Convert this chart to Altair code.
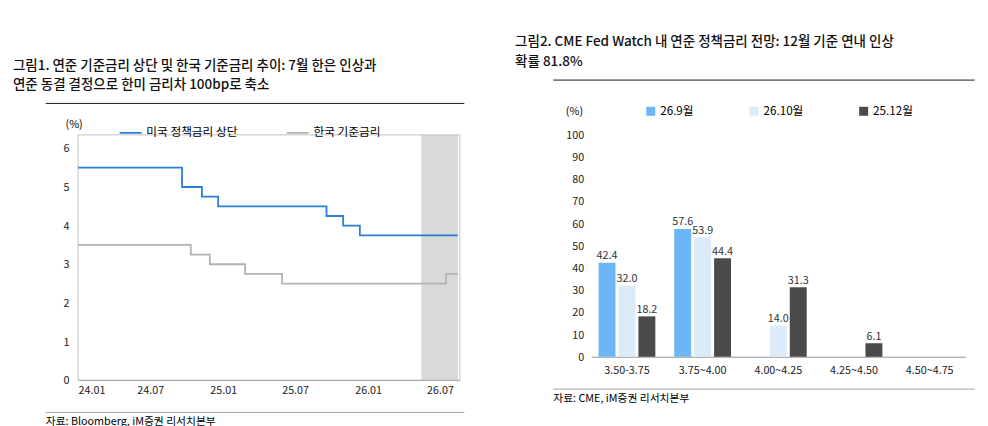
import altair as alt
import pandas as pd

FONT = "Noto Sans CJK KR"

us_dates = ["2024-01-01","2024-09-19","2024-11-08","2024-12-19","2025-09-18","2025-10-30","2025-12-11","2026-08-15"]
us_vals = [5.5,5.0,4.75,4.5,4.25,4.0,3.75,3.75]
kr_dates = ["2024-01-01","2024-10-11","2024-11-28","2025-02-25","2025-05-29","2026-07-16","2026-08-15"]
kr_vals = [3.5,3.25,3.0,2.75,2.5,2.75,2.75]
shade = [("2026-05-15","2026-08-15")]

buckets = ["3.50-3.75","3.75~4.00","4.00~4.25","4.25~4.50","4.50~4.75"]
series = ["26.9월","26.10월","25.12월"]
probs = {"26.9월":[42.4,57.6,0,0,0],"26.10월":[32.0,53.9,14.0,0,0],"25.12월":[18.2,44.4,31.3,6.1,0]}

lines = pd.concat([
    pd.DataFrame({"date":pd.to_datetime(us_dates),"v":us_vals,"s":"미국 정책금리 상단"}),
    pd.DataFrame({"date":pd.to_datetime(kr_dates),"v":kr_vals,"s":"한국 기준금리"}),
])
sh = pd.DataFrame({"a":pd.to_datetime([s[0] for s in shade]),"b":pd.to_datetime([s[1] for s in shade])})
one = pd.DataFrame({"t":[""]})

W1, H1 = 425, 273
xs = alt.Scale(domain=[pd.Timestamp("2024-01-01"), pd.Timestamp("2026-08-20")])
ticks = [pd.Timestamp(d) for d in ["2024-01-01","2024-07-01","2025-01-01","2025-07-01","2026-01-01","2026-07-01"]]
rect = alt.Chart(sh).mark_rect(color="#d9d9d9").encode(
    x=alt.X("a:T", scale=xs), x2="b:T", y=alt.value(0), y2=alt.value(H1))
frame = alt.Chart(one).mark_rect(fill=None, stroke="#bbbbbb").encode(
    x=alt.value(0), x2=alt.value(W1), y=alt.value(0), y2=alt.value(H1))
ln = alt.Chart(lines).mark_line(interpolate="step-after", strokeWidth=2).encode(
    x=alt.X("date:T", scale=xs, title=None,
            axis=alt.Axis(values=ticks, format="%y.%m", grid=False, labelPadding=6, tickSize=0)),
    y=alt.Y("v:Q", scale=alt.Scale(domain=[0,6.35], nice=False), title=None,
            axis=alt.Axis(values=[0,1,2,3,4,5,6], grid=False, tickSize=0, labelPadding=10, domain=False)),
    color=alt.Color("s:N", scale=alt.Scale(domain=["미국 정책금리 상단","한국 기준금리"], range=["#2a7fd4","#b3b3b3"]),
                    legend=alt.Legend(orient="none", legendX=45, legendY=-16, direction="horizontal", title=None,
                                      symbolType="stroke", symbolStrokeWidth=2, symbolSize=600, labelFontSize=13, columnPadding=50)))
unit1 = alt.Chart(pd.DataFrame({"t":["(%)"]})).mark_text(align="left", fontSize=12).encode(
    text="t:N", x=alt.value(-14), y=alt.value(-12))
src1 = alt.Chart(pd.DataFrame({"t":["자료: Bloomberg, iM증권 리서치본부"]})).mark_text(align="left", fontSize=12).encode(
    text="t:N", x=alt.value(-36), y=alt.value(H1+46))
top1 = alt.Chart(one).mark_rule(color="black").encode(x=alt.value(-36), x2=alt.value(W1+5), y=alt.value(-35))
bot1 = alt.Chart(one).mark_rule(color="#999").encode(x=alt.value(-36), x2=alt.value(W1+5), y=alt.value(H1+36))
left = alt.layer(rect, frame, ln, unit1, src1, top1, bot1).properties(
    width=W1, height=H1,
    title=alt.TitleParams(["그림1.  연준 기준금리 상단 및 한국 기준금리 추이: 7월 한은 인상과",
                           "           연준 동결 결정으로 한미 금리차 100bp로 축소"],
                          anchor="start", fontSize=15, fontWeight=500, lineHeight=22, offset=12, dx=-36, color="#111"))

rows = []
for s in series:
    for b, v in zip(buckets, probs[s]):
        rows.append({"b":b,"s":s,"v":v,"lab":(f"{v:.1f}" if v>0 else "")})
bd = pd.DataFrame(rows)
W2, H2 = 417, 247
base = alt.Chart(bd).encode(
    x=alt.X("b:N", sort=buckets, title=None, scale=alt.Scale(paddingInner=0.25, paddingOuter=0.1),
            axis=alt.Axis(labelAngle=0, tickSize=0, labelPadding=10, domainColor="#888")),
    xOffset=alt.XOffset("s:N", sort=series, scale=alt.Scale(paddingInner=0.15)),
    y=alt.Y("v:Q", scale=alt.Scale(domain=[0,100]), title=None,
            axis=alt.Axis(values=list(range(0,101,10)), grid=False, domain=False, tickSize=0, labelPadding=8)))
bars = base.mark_bar().encode(color=alt.Color("s:N", sort=series,
    scale=alt.Scale(domain=series, range=["#6cb6f7","#dcebfa","#4a4a4a"]),
    legend=alt.Legend(orient="none", legendX=60, legendY=-33, direction="horizontal", title=None,
                      symbolType="square", labelFontSize=13, columnPadding=60)))
labs = base.mark_text(dy=-8, fontSize=12, color="#333").encode(text="lab:N")
unit2 = alt.Chart(pd.DataFrame({"t":["(%)"]})).mark_text(align="left", fontSize=12).encode(
    text="t:N", x=alt.value(-28), y=alt.value(-26))
src2 = alt.Chart(pd.DataFrame({"t":["자료: CME, iM증권 리서치본부"]})).mark_text(align="left", fontSize=12).encode(
    text="t:N", x=alt.value(-42), y=alt.value(H2+46))
top2 = alt.Chart(one).mark_rule(color="black").encode(x=alt.value(-42), x2=alt.value(W2+10), y=alt.value(-61))
bot2 = alt.Chart(one).mark_rule(color="#999").encode(x=alt.value(-42), x2=alt.value(W2+10), y=alt.value(H2+36))
right = alt.layer(bars, labs, unit2, src2, top2, bot2).properties(
    width=W2, height=H2,
    title=alt.TitleParams(["그림2.  CME Fed Watch 내 연준 정책금리 전망: 12월 기준 연내 인상",
                           "           확률 81.8%"],
                          anchor="start", fontSize=15, fontWeight=500, lineHeight=22, offset=12, dx=-42, color="#111"))

chart = alt.hconcat(left, right, spacing=55).resolve_scale(color="independent").resolve_legend(color="independent").configure(
    font=FONT).configure_axis(labelFontSize=12, labelColor="#222", domainColor="#888").configure_view(stroke=None)
chart.save("out.html", embed_options={"renderer": "svg", "actions": False})
